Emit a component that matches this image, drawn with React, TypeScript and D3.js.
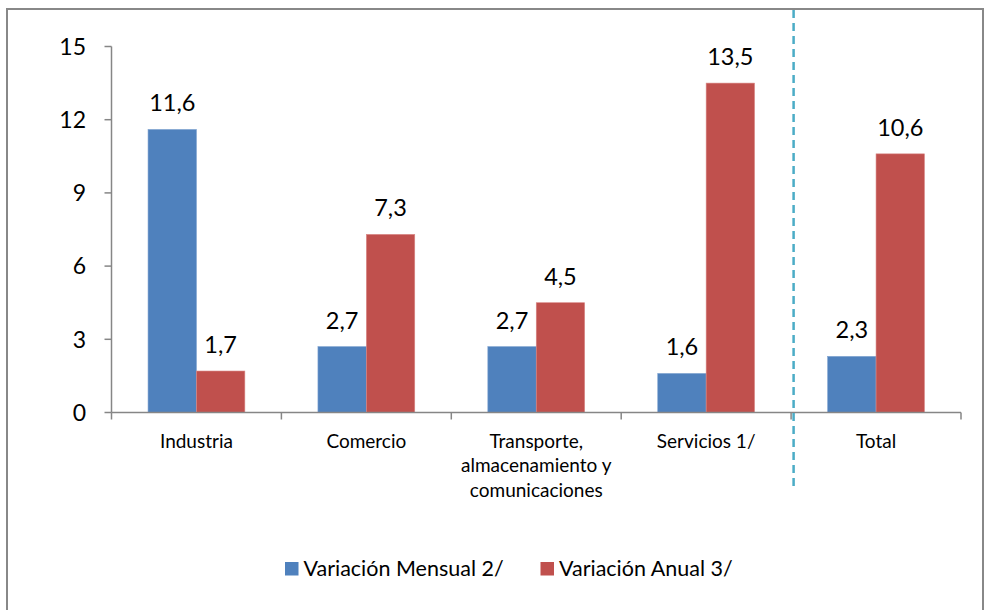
import React from "react";
import * as d3 from "d3";

const categories = ["Industria", "Comercio", "Transporte,\nalmacenamiento y\ncomunicaciones", "Servicios 1/", "Total"];
const seriesNames = ["Variación Mensual 2/", "Variación Anual 3/"];
const mensual = [11.6, 2.7, 2.7, 1.6, 2.3];
const anual = [1.7, 7.3, 4.5, 13.5, 10.6];
const yTicks = [0, 3, 6, 9, 12, 15];

const colors = ["#4f81bd", "#c0504d"];
const W = 984;
const H = 610;
const FONT = "Lato, 'Open Sans', sans-serif";

export default function App() {
  const left = 111.5;
  const right = 961;
  const top = 46.5;
  const bottom = 412.5;

  const x = d3.scaleBand<number>().domain(d3.range(categories.length)).range([left, right]);
  const inner = d3.scaleBand<number>().domain([0, 1]).range([0, x.bandwidth()]).paddingOuter(0.755).paddingInner(0);
  const y = d3.scaleLinear().domain([0, 15]).range([bottom, top]);

  const series = [mensual, anual];
  const fmt = (v: number) => v.toFixed(1).replace(".", ",");
  const dashX = x(4)! + 2.5;

  return (
    <svg width={W} height={H} style={{ position: "absolute", left: 0, top: 0, background: "#fff" }}>
      <rect x={7} y={9} width={976} height={620} fill="#fff" stroke="#888" strokeWidth={2} />
      {/* y axis */}
      <line x1={left} x2={left} y1={top} y2={bottom} stroke="#868686" strokeWidth={1.5} />
      {yTicks.map((t) => (
        <g key={t}>
          <line x1={left - 7} x2={left} y1={y(t)} y2={y(t)} stroke="#868686" strokeWidth={1.5} />
          <text x={86} y={y(t)} dy="0.36em" textAnchor="end" fontFamily={FONT} fontSize={23} fill="#000">
            {t}
          </text>
        </g>
      ))}
      {/* bars */}
      {series.map((s, si) =>
        s.map((v, i) => (
          <rect
            key={`${si}-${i}`}
            x={x(i)! + inner(si)!}
            y={y(v)}
            width={inner.bandwidth()}
            height={bottom - y(v)}
            fill={colors[si]}
            stroke={si === 0 ? "#7fa2d0" : "#d98886"}
            strokeWidth={0.6}
          />
        ))
      )}
      {series.map((s, si) =>
        s.map((v, i) => (
          <text
            key={`l${si}-${i}`}
            x={x(i)! + inner(si)! + inner.bandwidth() / 2}
            y={y(v) - 18}
            textAnchor="middle"
            fontFamily={FONT}
            fontSize={23.5}
            fill="#000"
          >
            {fmt(v)}
          </text>
        ))
      )}
      {/* x axis */}
      <line x1={left} x2={right} y1={bottom} y2={bottom} stroke="#868686" strokeWidth={1.5} />
      {d3.range(categories.length + 1).map((i) => {
        const tx = i < categories.length ? x(i)! : right;
        return <line key={i} x1={tx} x2={tx} y1={bottom} y2={bottom + 7} stroke="#868686" strokeWidth={1.5} />;
      })}
      {categories.map((c, i) => (
        <text key={c} textAnchor="middle" fontFamily={FONT} fontSize={19} fill="#000">
          {c.split("\n").map((line, li) => (
            <tspan key={li} x={x(i)! + x.bandwidth() / 2} y={447.5 + li * 24.5}>
              {line}
            </tspan>
          ))}
        </text>
      ))}
      {/* separator */}
      <line x1={dashX} x2={dashX} y1={10} y2={488} stroke="#4bacc6" strokeWidth={2.5} strokeDasharray="8,5" />
      {/* legend */}
      {seriesNames.map((n, i) => {
        const lx = i === 0 ? 285 : 540.5;
        return (
          <g key={n}>
            <rect x={lx} y={562} width={13.5} height={13.5} fill={colors[i]} />
            <text x={lx + 18.5} y={576} fontFamily={FONT} fontSize={21.5} fill="#000">
              {n}
            </text>
          </g>
        );
      })}
    </svg>
  );
}
